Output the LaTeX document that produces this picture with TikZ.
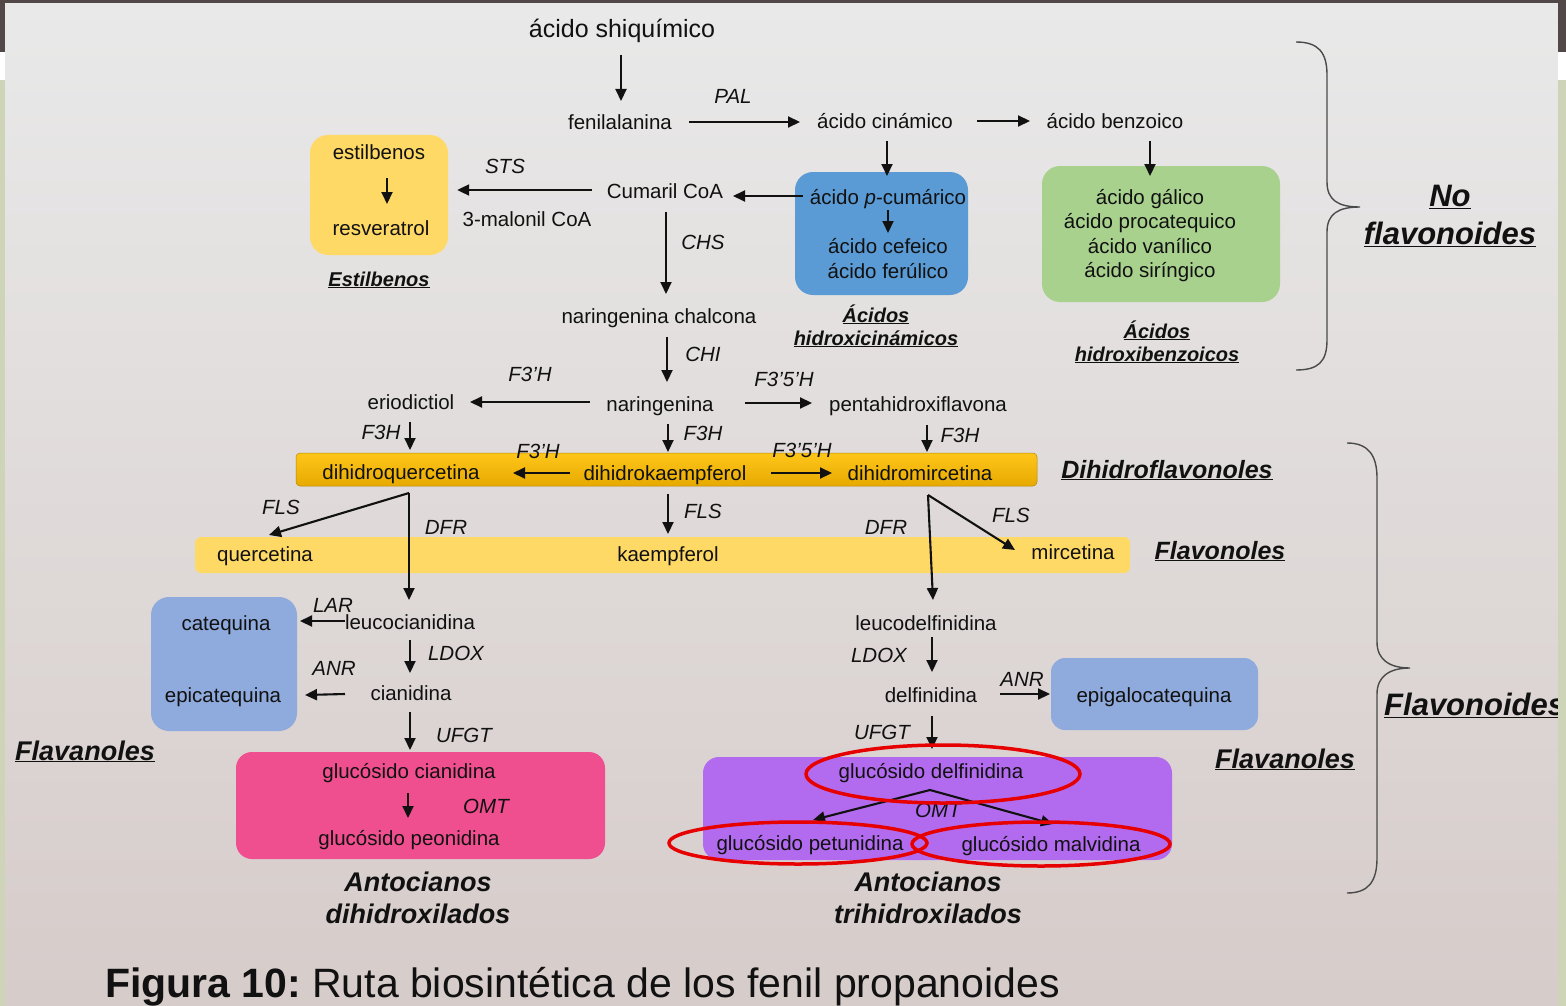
\documentclass[tikz,border=0pt]{standalone}
\usepackage{fontspec}
\setmainfont{Liberation Sans}
\usetikzlibrary{arrows.meta,calc}
\definecolor{ink}{HTML}{111111}
\definecolor{bgtop}{HTML}{E9E9E9}
\definecolor{bgbot}{HTML}{D6CCCA}
\definecolor{darkbar}{HTML}{534848}
\definecolor{sidegreen}{HTML}{CDD4B8}
\definecolor{lightyellow}{HTML}{FFD966}
\definecolor{goldtop}{HTML}{FFC61A}
\definecolor{goldbot}{HTML}{E6A900}
\definecolor{acidblue}{HTML}{5B9BD5}
\definecolor{acidgreen}{HTML}{A9D18E}
\definecolor{flavblue}{HTML}{8FAADC}
\definecolor{antopink}{HTML}{EF4F8E}
\definecolor{antopurple}{HTML}{B26BEF}
\definecolor{circred}{HTML}{E60000}
\definecolor{bracegray}{HTML}{4A4A4A}
\begin{document}
\begin{tikzpicture}[x=1pt,y=-1pt,
  txt/.style={font=\fontsize{20.5}{24}\selectfont, inner sep=0pt, text height=15pt, text depth=0pt, text=ink},
  enz/.style={font=\fontsize{20.5}{24}\selectfont\itshape, inner sep=0pt, text height=15pt, text depth=0pt, text=ink},
  hdrs/.style={font=\fontsize{20}{24}\selectfont\bfseries\itshape, inner sep=0pt, anchor=base, text=ink},
  hdrm/.style={font=\fontsize{25}{30}\selectfont\bfseries\itshape, inner sep=0pt, anchor=base, text=ink},
  hdrl/.style={font=\fontsize{27}{32}\selectfont\bfseries\itshape, inner sep=0pt, anchor=base, text=ink},
  hdrxl/.style={font=\fontsize{31}{36}\selectfont\bfseries\itshape, inner sep=0pt, anchor=base, text=ink},
  panel/.style={inner sep=0pt, draw=none, rounded corners=18pt},
  arr/.style={draw=ink, line width=2.1pt, -{Triangle[length=12pt,width=11pt]}},
  ring/.style={draw=circred, line width=3.5pt},
  brace/.style={draw=bracegray, line width=1.4pt}
]
\useasboundingbox (0,0) rectangle (1566,1006);
% background
\fill[darkbar] (0,0) rectangle (1566,1006);
\shade[top color=bgtop, bottom color=bgbot] (5,3) rectangle (1558,1006);

% coloured panels
\node[panel, fill=lightyellow, minimum width=138pt, minimum height=120pt] (estbox) at (379,195) {};
\node[panel, fill=acidblue, minimum width=173pt, minimum height=123pt] (bluebox) at (881.5,233.5) {};
\node[panel, fill=acidgreen, minimum width=238pt, minimum height=136pt] (greenbox) at (1161,234) {};
\node[panel, fill=flavblue, minimum width=146pt, minimum height=134pt] (catbox) at (224,664) {};
\node[panel, fill=flavblue, minimum width=207pt, minimum height=72pt, rounded corners=14pt] (epibox) at (1154.5,694) {};
\node[panel, fill=antopink, minimum width=369pt, minimum height=107pt, rounded corners=16pt] (pinkbox) at (420.5,805.5) {};
\node[panel, fill=antopurple, minimum width=469pt, minimum height=103pt, rounded corners=16pt] (purplebox) at (937.5,808.5) {};
\node[panel, top color=goldtop, bottom color=goldbot, draw=goldbot!80!black, line width=0.5pt, minimum width=741pt, minimum height=33pt, rounded corners=4pt] (goldbar) at (666.5,469.5) {};
\node[panel, fill=lightyellow, minimum width=935pt, minimum height=36pt, rounded corners=6pt] (flbar) at (662.5,555) {};

% compounds
\node[txt, font=\fontsize{25}{30}\selectfont] (shiq) at (622,30) {ácido shiquímico};
\node[txt] (fenil) at (620,122) {fenilalanina};
\node[txt] (cinam) at (885,121) {ácido cinámico};
\node[txt] (benz) at (1115,121) {ácido benzoico};
\node[txt] (pcum) at (888,197) {ácido \textit{p}-cumárico};
\node[txt] (cafe) at (888,246) {ácido cefeico};
\node[txt] (feru) at (888,271) {ácido ferúlico};
\node[txt] (gal) at (1150,197) {ácido gálico};
\node[txt] (proc) at (1150,221) {ácido procatequico};
\node[txt] (van) at (1150,246) {ácido vanílico};
\node[txt] (sir) at (1150,270) {ácido siríngico};
\node[txt] (cum) at (665,191) {Cumaril CoA};
\node[txt] (malon) at (527,219) {3-malonil CoA};
\node[txt] (estil) at (379,152) {estilbenos};
\node[txt] (resv) at (381,228) {resveratrol};
\node[txt] (narch) at (659,316) {naringenina chalcona};
\node[txt] (naring) at (660,404) {naringenina};
\node[txt] (eriod) at (411,402) {eriodictiol};
\node[txt] (penta) at (918,404) {pentahidroxiflavona};
\node[txt] (dhq) at (401,472) {dihidroquercetina};
\node[txt] (dhk) at (665,473) {dihidrokaempferol};
\node[txt] (dhm) at (920,473) {dihidromircetina};
\node[txt] (quer) at (265,554) {quercetina};
\node[txt] (kaem) at (668,554) {kaempferol};
\node[txt] (mirc) at (1073,552) {mircetina};
\node[txt] (leucc) at (410,622) {leucocianidina};
\node[txt] (cian) at (411,693) {cianidina};
\node[txt] (cateq) at (226,623) {catequina};
\node[txt] (epicat) at (223,695) {epicatequina};
\node[txt] (glucc) at (409,771) {glucósido cianidina};
\node[txt] (glucp) at (409,838) {glucósido peonidina};
\node[txt] (leucd) at (926,623) {leucodelfinidina};
\node[txt] (delf) at (931,695) {delfinidina};
\node[txt] (epigal) at (1154,695) {epigalocatequina};
\node[txt] (glucd) at (931,771) {glucósido delfinidina};
\node[txt] (glupet) at (810,843) {glucósido petunidina};
\node[txt] (glumal) at (1051,844) {glucósido malvidina};

% enzymes
\node[enz] (ePAL) at (733,96) {PAL};
\node[enz] (eSTS) at (505,166) {STS};
\node[enz] (eCHS) at (703,242) {CHS};
\node[enz] (eCHI) at (703,354) {CHI};
\node[enz] (eF3pHa) at (530,374) {F3’H};
\node[enz] (eF35Ha) at (784,379) {F3’5’H};
\node[enz] (eF3Hl) at (381,432) {F3H};
\node[enz] (eF3Hm) at (703,433) {F3H};
\node[enz] (eF3Hr) at (960,435) {F3H};
\node[enz] (eF3pHb) at (538,451) {F3’H};
\node[enz] (eF35Hb) at (802,450) {F3’5’H};
\node[enz] (eFLSl) at (281,507) {FLS};
\node[enz] (eDFRl) at (446,527) {DFR};
\node[enz] (eFLSm) at (703,511) {FLS};
\node[enz] (eDFRr) at (886,527) {DFR};
\node[enz] (eFLSr) at (1011,515) {FLS};
\node[enz] (eLAR) at (333,605) {LAR};
\node[enz] (eLDOXl) at (456,653) {LDOX};
\node[enz] (eANRl) at (334,668) {ANR};
\node[enz] (eUFGTl) at (464,735) {UFGT};
\node[enz] (eOMTl) at (486,806) {OMT};
\node[enz] (eLDOXr) at (879,655) {LDOX};
\node[enz] (eANRr) at (1022,679) {ANR};
\node[enz] (eUFGTr) at (882,732) {UFGT};
\node[enz] (eOMTr) at (938,810) {OMT};

% connectors
\draw[arr] ($(shiq)+(-1,25)$) -- ($(fenil)+(1,-21)$);
\draw[arr] ($(fenil)+(69,0)$) -- ($(cinam)+(-85,1)$);
\draw[arr] ($(cinam)+(92,0)$) -- ($(benz)+(-85,0)$);
\draw[arr] ($(cinam)+(2,20)$) -- ($(pcum)+(-1,-21)$);
\draw[arr] ($(benz)+(35,20)$) -- ($(gal)+(0,-21)$);
\draw[arr] ($(pcum)+(0,13)$) -- ($(cafe)+(0,-13)$);
\draw[arr] ($(pcum)+(-85,-1)$) -- ($(cum)+(68,5)$);
\draw[arr] ($(cum)+(-73,-1)$) -- ($(estbox.east)+(9,-5)$);
\draw[arr] ($(estil)+(8,26)$) -- ($(resv)+(6,-24)$);
\draw[arr] ($(cum)+(1,21)$) -- ($(narch)+(7,-22)$);
\draw[arr] ($(narch)+(8,21)$) -- ($(naring)+(7,-22)$);
\draw[arr] ($(naring)+(-70,-2)$) -- ($(eriod)+(59,0)$);
\draw[arr] ($(naring)+(85,-1)$) -- ($(penta)+(-106,-1)$);
\draw[arr] ($(eriod)+(-1,20)$) -- ($(dhq)+(9,-22)$);
\draw[arr] ($(naring)+(8,20)$) -- ($(dhk)+(3,-21)$);
\draw[arr] ($(penta)+(9,21)$) -- ($(dhm)+(7,-21)$);
\draw[arr] ($(dhk)+(-95,0)$) -- ($(dhq)+(112,1)$);
\draw[arr] ($(dhk)+(106,0)$) -- ($(dhm)+(-88,0)$);
\draw[arr] ($(dhq)+(8,21)$) -- ($(quer)+(4,-19)$);
\draw[arr] ($(dhq)+(8,21)$) -- ($(leucc)+(-1,-22)$);
\draw[arr] ($(dhk)+(3,21)$) -- ($(kaem)+(0,-20)$);
\draw[arr] ($(dhm)+(8,22)$) -- ($(mirc)+(-58,-2)$);
\draw[arr] ($(dhm)+(8,22)$) -- ($(leucd)+(7,-23)$);
\draw[arr] ($(leucc)+(-65,-1)$) -- ($(cateq)+(74,-2)$);
\draw[arr] ($(leucc)+(0,18)$) -- ($(cian)+(-1,-20)$);
\draw[arr] ($(cian)+(-66,1)$) -- ($(epicat)+(82,0)$);
\draw[arr] ($(cian)+(-1,19)$) -- ($(glucc)+(1,-21)$);
\draw[arr] ($(glucc)+(-1,22)$) -- ($(glucp)+(-1,-20)$);
\draw[arr] ($(leucd)+(6,14)$) -- ($(delf)+(1,-23)$);
\draw[arr] ($(delf)+(69,-1)$) -- ($(epigal)+(-104,-1)$);
\draw[arr] ($(delf)+(1,21)$) -- ($(glucd)+(1,-22)$);
\draw[arr] ($(glucd)+(-1,19)$) -- ($(glupet)+(3,-23)$);
\draw[arr] ($(glucd)+(-1,19)$) -- ($(glumal)+(2,-20)$);

% red rings
\draw[ring] (943,774) ellipse [x radius=137pt, y radius=29pt];
\draw[ring] (798,843) ellipse [x radius=129pt, y radius=21pt];
\draw[ring] (1041,844) ellipse [x radius=129pt, y radius=22pt];

% braces
\draw[brace] (1296,42) .. controls (1318,42) and (1327,52) .. (1327,75) -- (1327,182)
  .. controls (1327,200) and (1338,207) .. (1360,207)
  .. controls (1338,207) and (1327,214) .. (1327,232) -- (1327,340)
  .. controls (1327,362) and (1318,370) .. (1296,370);
\draw[brace] (1347,443) .. controls (1368,443) and (1377,455) .. (1377,478) -- (1377,642)
  .. controls (1377,660) and (1390,668) .. (1410,668)
  .. controls (1390,668) and (1377,676) .. (1377,694) -- (1377,858)
  .. controls (1377,882) and (1368,893) .. (1347,893);

% group headings
\node[hdrs] (hEst) at (379,286) {\underline{Estilbenos}};
\node[hdrs] (hAc1a) at (876,322) {\underline{Ácidos}};
\node[hdrs] (hAc1b) at (876,345) {\underline{hidroxicinámicos}};
\node[hdrs] (hAc2a) at (1157,338) {\underline{Ácidos}};
\node[hdrs] (hAc2b) at (1157,361) {\underline{hidroxibenzoicos}};
\node[hdrm] (hDihf) at (1167,478) {\underline{Dihidroflavonoles}};
\node[hdrm] (hFlavol) at (1220,559) {\underline{Flavonoles}};
\node[hdrl] (hFlavaL) at (85,760) {\underline{Flavanoles}};
\node[hdrl] (hFlavaR) at (1285,768) {\underline{Flavanoles}};
\node[hdrxl] (hNo) at (1450,206) {\underline{No}};
\node[hdrxl] (hNof) at (1450,244) {\underline{flavonoides}};
\node[hdrxl, anchor=base west] (hFlavd) at (1384,715) {\underline{Flavonoides}};
\node[hdrl] (hAnt1a) at (418,891) {Antocianos};
\node[hdrl] (hAnt1b) at (418,923) {dihidroxilados};
\node[hdrl] (hAnt2a) at (928,891) {Antocianos};
\node[hdrl] (hAnt2b) at (928,923) {trihidroxilados};

% caption
\node[inner sep=0pt, anchor=base west, text=ink, font=\fontsize{41}{46}\selectfont] (caption) at (105,997) {\textbf{Figura 10:}\hspace{-0.1em} Ruta biosintética de los fenil propanoides};

% frame strips on top
\fill[darkbar] (0,0) rectangle (1566,3);
\fill[darkbar] (0,0) rectangle (5,52);
\fill[white] (0,52) rectangle (5,80);
\fill[sidegreen] (0,80) rectangle (5,1006);
\fill[darkbar] (1558,0) rectangle (1566,52);
\fill[white] (1558,52) rectangle (1566,80);
\fill[sidegreen] (1558,80) rectangle (1566,1006);
\end{tikzpicture}
\end{document}
